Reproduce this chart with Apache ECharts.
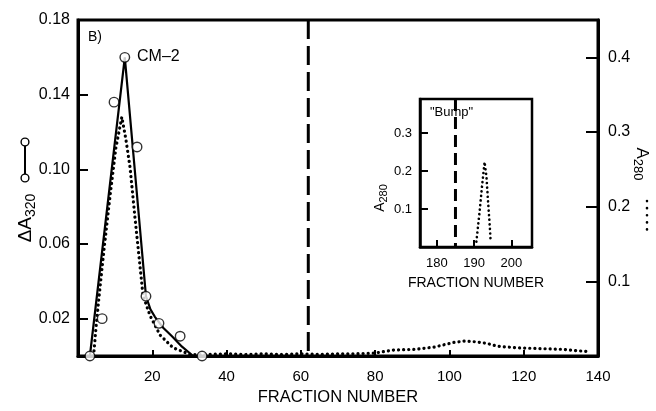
<!DOCTYPE html>
<html>
<head>
<meta charset="utf-8">
<script src="https://cdn.jsdelivr.net/npm/echarts@6/dist/echarts.min.js"></script>
<style>html,body{margin:0;padding:0;background:#fff}#c{width:656px;height:411px}</style>
</head>
<body>
<div id="c"></div>
<script>
// ---- data ----
const a320PointFraction = [3.2, 6.5, 9.7, 12.6, 15.9, 18.3, 21.8, 27.5, 33.4];
const a320PointValue    = [0, 0.02, 0.136, 0.16, 0.112, 0.032, 0.0175, 0.0106, 0];
const a320CurveFraction = [3.2, 12.6, 18.3, 19.5, 20.7, 23, 25.3, 28, 31];
const a320CurveValue    = [0, 0.16, 0.032, 0.025, 0.021, 0.015, 0.0106, 0.005, 0];
const a280Fraction = [4.2, 4.9, 5.7, 7.1, 8.6, 10.2, 11.8, 12.9, 14, 15.3, 16.7, 17.5, 19.4, 22.1, 25.6, 30.2, 35, 40, 45, 50, 55, 60, 65, 70, 75, 80, 85, 91, 96, 101, 104, 107, 110, 113, 118, 124, 130, 137];
const a280Value    = [0, 0.041, 0.081, 0.147, 0.213, 0.279, 0.32, 0.29, 0.253, 0.187, 0.12, 0.081, 0.054, 0.028, 0.011, 0.002, 0.002, 0.003, 0.002, 0.003, 0.002, 0.003, 0.002, 0.003, 0.003, 0.004, 0.008, 0.009, 0.012, 0.018, 0.02, 0.019, 0.017, 0.013, 0.011, 0.01, 0.009, 0.006];
const insetFraction = [190.6, 191.5, 192.1, 192.8, 193.3, 193.7, 194.2, 194.4];
const insetA280     = [0.014, 0.097, 0.159, 0.224, 0.185, 0.124, 0.053, 0.018];
const breakFraction = 62;
const bumpFraction = 185;
const xTicks = [20, 40, 60, 80, 100, 120, 140];
const leftTicks = [0.02, 0.06, 0.10, 0.14, 0.18];
const rightTicks = [0.1, 0.2, 0.3, 0.4];
const insetXTicks = [180, 190, 200];
const insetYTicks = [0.1, 0.2, 0.3];

const zip = (a, b) => a.map((v, i) => [v, b[i]]);
const FONT = 'Liberation Sans';
const black = '#000';

const chart = echarts.init(document.getElementById('c'), null, {renderer: 'canvas'});
chart.setOption({
  animation: false,
  backgroundColor: '#fff',
  textStyle: {fontFamily: FONT, color: black},
  grid: [
    {left: 78, right: 58, top: 20, bottom: 51, show: true, borderColor: black, borderWidth: 3},
    {left: 420, top: 99, width: 112, height: 148, show: true, borderColor: black, borderWidth: 2.5}
  ],
  xAxis: [
    {type: 'value', gridIndex: 0, min: 0, max: 140,
     axisLine: {lineStyle: {color: black, width: 3}},
     axisTick: {inside: true, length: 6, lineStyle: {color: black, width: 2}, customValues: xTicks},
     axisLabel: {customValues: xTicks, fontSize: 15, color: black, fontFamily: FONT, margin: 13},
     splitLine: {show: false},
     name: 'FRACTION NUMBER', nameLocation: 'middle', nameGap: 33,
     nameTextStyle: {fontSize: 16.5, color: black, fontFamily: FONT}},
    {type: 'value', gridIndex: 1, min: 175.5, max: 205.5,
     axisLine: {lineStyle: {color: black, width: 2.5}},
     axisTick: {inside: true, length: 7, lineStyle: {color: black, width: 2}, customValues: insetXTicks},
     axisLabel: {customValues: insetXTicks, fontSize: 13, color: black, fontFamily: FONT, margin: 10},
     splitLine: {show: false},
     name: 'FRACTION NUMBER', nameLocation: 'middle', nameGap: 29,
     nameTextStyle: {fontSize: 14, color: black, fontFamily: FONT}}
  ],
  yAxis: [
    {type: 'value', gridIndex: 0, min: 0, max: 0.18,
     axisLine: {lineStyle: {color: black, width: 3}},
     axisTick: {inside: true, length: 10, lineStyle: {color: black, width: 2}, customValues: leftTicks},
     axisLabel: {customValues: leftTicks, fontSize: 16, color: black, fontFamily: FONT, margin: 8,
                 formatter: v => v.toFixed(2)},
     splitLine: {show: false}},
    {type: 'value', gridIndex: 0, position: 'right', min: 0, max: 0.45,
     axisLine: {show: true, lineStyle: {color: black, width: 3}},
     axisTick: {inside: true, length: 12, lineStyle: {color: black, width: 2}, customValues: rightTicks},
     axisLabel: {customValues: rightTicks, fontSize: 16, color: black, fontFamily: FONT, margin: 10,
                 formatter: v => v.toFixed(1)},
     splitLine: {show: false}},
    {type: 'value', gridIndex: 1, min: 0, max: 0.39,
     axisLine: {lineStyle: {color: black, width: 2.5}},
     axisTick: {inside: true, length: 8, lineStyle: {color: black, width: 2}, customValues: insetYTicks},
     axisLabel: {customValues: insetYTicks, fontSize: 13, color: black, fontFamily: FONT, margin: 8,
                 formatter: v => v.toFixed(1)},
     splitLine: {show: false}}
  ],
  series: [
    {type: 'line', name: 'A280', xAxisIndex: 0, yAxisIndex: 1, data: zip(a280Fraction, a280Value),
     showSymbol: false, lineStyle: {color: black, width: 3.2, type: [0.1, 5], cap: 'round'}, z: 3},
    {type: 'line', name: 'ΔA320 curve', xAxisIndex: 0, yAxisIndex: 0, data: zip(a320CurveFraction, a320CurveValue),
     showSymbol: false, lineStyle: {color: black, width: 2.2}, z: 4},
    {type: 'scatter', name: 'ΔA320', xAxisIndex: 0, yAxisIndex: 0, data: zip(a320PointFraction, a320PointValue),
     symbol: 'circle', symbolSize: 9.5, itemStyle: {color: '#fff', borderColor: black, borderWidth: 1.4}, z: 6},
    {type: 'line', xAxisIndex: 0, yAxisIndex: 0, data: [[breakFraction, 0.18], [breakFraction, 0]],
     showSymbol: false, lineStyle: {color: black, width: 3, type: [19, 7]}, z: 2},
    {type: 'line', xAxisIndex: 1, yAxisIndex: 2, data: zip(insetFraction, insetA280),
     showSymbol: false, lineStyle: {color: black, width: 2.6, type: [0.1, 4.5], cap: 'round'}, z: 3},
    {type: 'line', xAxisIndex: 1, yAxisIndex: 2, data: [[bumpFraction, 0.39], [bumpFraction, 0]],
     showSymbol: false, lineStyle: {color: black, width: 3, type: [12, 6]}, z: 2}
  ],
  graphic: [
    {type: 'text', left: 88, top: 30, style: {text: 'B)', fontSize: 14, fontFamily: FONT, fill: black}},
    {type: 'text', left: 137, top: 49, style: {text: 'CM–2', fontSize: 16, fontFamily: FONT, fill: black}},
    {type: 'text', left: 430, top: 106, style: {text: '"Bump"', fontSize: 13, fontFamily: FONT, fill: black}},
    // left axis title
    {type: 'text', x: 26, y: 218, rotation: Math.PI / 2,
     style: {text: '{a|ΔA}{s|320}', align: 'center', verticalAlign: 'middle', fill: black,
             rich: {a: {fontSize: 19, fontFamily: FONT, fill: black},
                    s: {fontSize: 14, fontFamily: FONT, fill: black, padding: [10, 0, 0, 0]}}}},
    {type: 'line', shape: {x1: 25, y1: 142, x2: 25, y2: 178}, style: {stroke: black, lineWidth: 2}},
    {type: 'circle', shape: {cx: 25, cy: 142, r: 3.9}, style: {fill: '#fff', stroke: black, lineWidth: 1.4}},
    {type: 'circle', shape: {cx: 25, cy: 178, r: 3.9}, style: {fill: '#fff', stroke: black, lineWidth: 1.4}},
    // right axis title
    {type: 'text', x: 642, y: 164, rotation: -Math.PI / 2,
     style: {text: '{a|A}{s|280}', align: 'center', verticalAlign: 'middle', fill: black,
             rich: {a: {fontSize: 17, fontFamily: FONT, fill: black},
                    s: {fontSize: 13, fontFamily: FONT, fill: black, padding: [9, 0, 0, 0]}}}},
    {type: 'line', shape: {x1: 647, y1: 201, x2: 647, y2: 230},
     style: {stroke: black, lineWidth: 2.6, lineDash: [0.1, 7], lineCap: 'round'}},
    // inset y title
    {type: 'text', x: 380, y: 198, rotation: Math.PI / 2,
     style: {text: '{a|A}{s|280}', align: 'center', verticalAlign: 'middle', fill: black,
             rich: {a: {fontSize: 14, fontFamily: FONT, fill: black},
                    s: {fontSize: 11, fontFamily: FONT, fill: black, padding: [7, 0, 0, 0]}}}}
  ]
});
</script>
</body>
</html>
